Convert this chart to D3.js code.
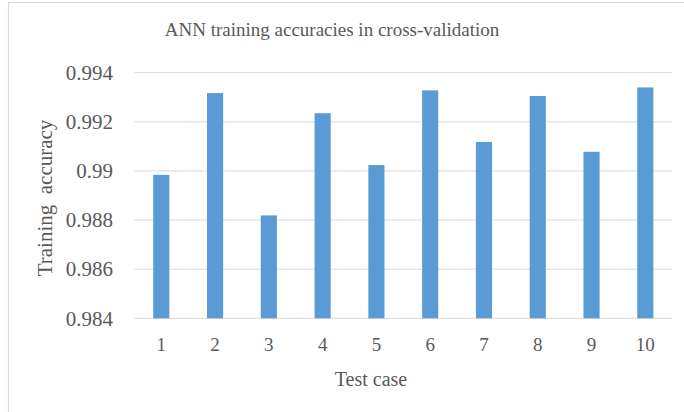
<!DOCTYPE html>
<html><head><meta charset="utf-8">
<script src="https://cdn.jsdelivr.net/npm/d3@7"></script>
<style>body{margin:0;background:#fff}svg{display:block}</style>
</head><body>
<svg id="c" width="684" height="412"></svg>
<script>
const categories = ["1","2","3","4","5","6","7","8","9","10"];
const accuracies = [0.98984, 0.99317, 0.98819, 0.99235, 0.99024, 0.99328, 0.99118, 0.99305, 0.99078, 0.9934];
const yTicks = [0.984, 0.986, 0.988, 0.99, 0.992, 0.994];
const title = "ANN training accuracies in cross-validation";
const xTitle = "Test case";
const yTitle = "Training  accuracy";

const svg = d3.select("#c");
const font = "'Liberation Serif','Times New Roman',serif";
const txt = "#595959";

// outer border
svg.append("path").attr("d","M8.5,412 V2.5 H684").attr("fill","none").attr("stroke","#d9d9d9").attr("stroke-width",1.2);

const m = {left:134.4, right:672.2, top:72.7, bottom:318.3};
const x = d3.scaleBand().domain(categories).range([m.left, m.right]).paddingInner(0.7).paddingOuter(0.35);
const y = d3.scaleLinear().domain([0.984, 0.994]).range([m.bottom, m.top]);

// gridlines
svg.append("g").selectAll("line").data(yTicks).join("line")
  .attr("x1", m.left).attr("x2", m.right)
  .attr("y1", d=>y(d)).attr("y2", d=>y(d))
  .attr("stroke","#d9d9d9").attr("stroke-width",1);

// bars
svg.append("g").selectAll("rect").data(accuracies).join("rect")
  .attr("x",(d,i)=>x(categories[i]))
  .attr("width", x.bandwidth())
  .attr("y", d=>y(d))
  .attr("height", d=>y(0.984)-y(d))
  .attr("fill","#5b9bd5");

// y axis labels
const yAxis = d3.axisLeft(y).tickValues(yTicks).tickSize(0).tickPadding(0).tickFormat(d3.format("~g"));
const ya = svg.append("g").attr("transform","translate(113,0)").call(yAxis)
  .attr("font-family",null).attr("font-size",null);
ya.select(".domain").remove();
ya.selectAll("text").style("font-family",font).style("font-size","21px").attr("fill",txt);

// x axis labels
const xAxis = d3.axisBottom(x).tickSize(0).tickPadding(0);
const xa = svg.append("g").attr("transform","translate(0,337)").call(xAxis)
  .attr("font-family",null).attr("font-size",null);
xa.select(".domain").remove();
xa.selectAll("text").style("font-family",font).style("font-size","19px").attr("fill",txt);

// titles
svg.append("text").attr("x",332).attr("y",36).attr("text-anchor","middle")
  .style("font-family",font).style("font-size","19px").attr("fill",txt).text(title);
svg.append("text").attr("x",371).attr("y",386).attr("text-anchor","middle")
  .style("font-family",font).style("font-size","20px").attr("fill",txt).text(xTitle);
svg.append("text").attr("transform","translate(52,198) rotate(-90)").attr("text-anchor","middle")
  .style("font-family",font).style("font-size","21px").attr("fill",txt).style("white-space","pre").text(yTitle);
</script>
</body></html>
